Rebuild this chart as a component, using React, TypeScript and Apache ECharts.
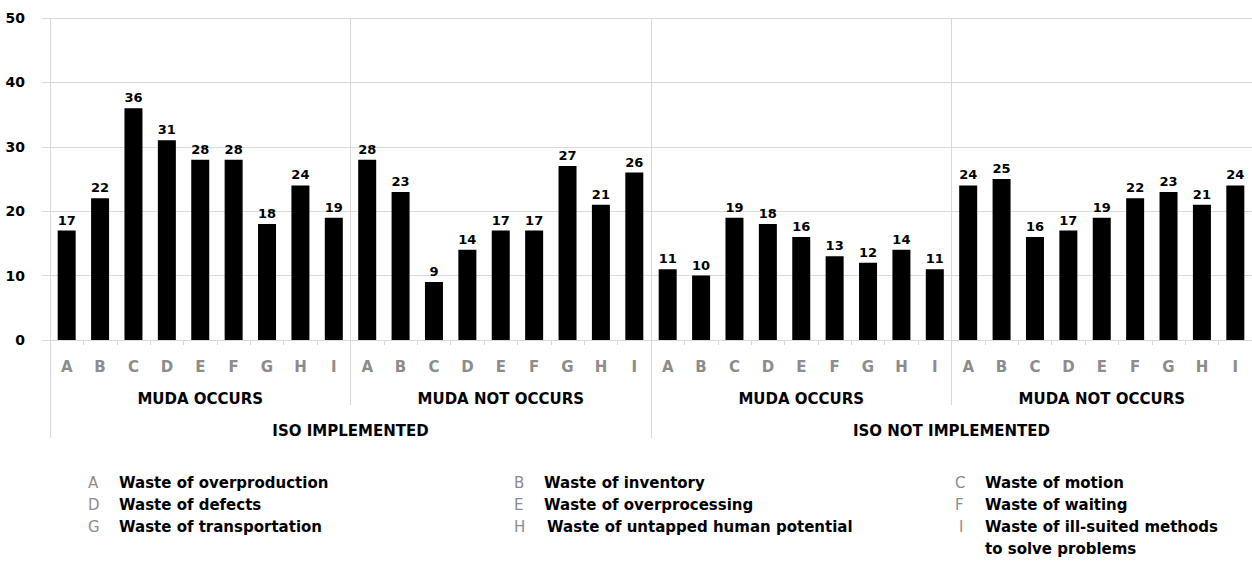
import React, { useEffect, useRef } from "react";
import * as echarts from "echarts";

// Waste categories (A–I) shown under every bar group
const wasteLetters = ["A", "B", "C", "D", "E", "F", "G", "H", "I"];

// Counts per group
const isoImplementedMudaOccurs = [17, 22, 36, 31, 28, 28, 18, 24, 19];
const isoImplementedMudaNotOccurs = [28, 23, 9, 14, 17, 17, 27, 21, 26];
const isoNotImplementedMudaOccurs = [11, 10, 19, 18, 16, 13, 12, 14, 11];
const isoNotImplementedMudaNotOccurs = [24, 25, 16, 17, 19, 22, 23, 21, 24];

// Hierarchical axis labels
const mudaLabels = ["MUDA OCCURS", "MUDA NOT OCCURS", "MUDA OCCURS", "MUDA NOT OCCURS"];
const isoLabels = ["ISO IMPLEMENTED", "ISO NOT IMPLEMENTED"];

// Value axis range
const yMin = 0;
const yMax = 50;
const yStep = 10;

// Key for the letters
const legendLetters = ["A", "B", "C", "D", "E", "F", "G", "H", "I"];
const legendTexts = [
  "Waste of overproduction",
  "Waste of inventory",
  "Waste of motion",
  "Waste of defects",
  "Waste of overprocessing",
  "Waste of waiting",
  "Waste of transportation",
  "Waste of untapped human potential",
  "Waste of ill-suited methods\nto solve problems",
];

const FONT = "'DejaVu Sans', Verdana, sans-serif";
const GRID_COLOR = "#d9d9d9";
const LETTER_GRAY = "#8c8c8c";

export default function App() {
  const ref = useRef<HTMLDivElement>(null);

  useEffect(() => {
    if (!ref.current) return;
    const chart = echarts.init(ref.current, undefined, { renderer: "svg" });

    const groups = [
      isoImplementedMudaOccurs,
      isoImplementedMudaNotOccurs,
      isoNotImplementedMudaOccurs,
      isoNotImplementedMudaNotOccurs,
    ];
    const values = groups.flat();
    const letterAxis = groups.flatMap(() => wasteLetters);

    // key layout: three columns, row-major
    const letterX = [88, 514, 955];
    const textX = [119, 544, 985];
    const rowY = [483, 505, 527];
    const legendGraphics: any[] = [];
    legendLetters.forEach((letter, i) => {
      const col = i % 3;
      const row = Math.floor(i / 3);
      legendGraphics.push({
        type: "text",
        x: letterX[col] + (letter === "I" ? 4 : 0),
        y: rowY[row] - 11,
        style: {
          text: letter,
          fill: LETTER_GRAY,
          font: `15px ${FONT}`,
          verticalAlign: "top",
          lineHeight: 22,
        },
      });
      legendGraphics.push({
        type: "text",
        x: textX[col] + (letter === "H" ? 3 : 0),
        y: rowY[row] - 11,
        style: {
          text: legendTexts[i],
          fill: "#000",
          font: `bold 15px ${FONT}`,
          verticalAlign: "top",
          lineHeight: 22,
        },
      });
    });

    chart.setOption({
      animation: false,
      backgroundColor: "#fff",
      grid: { left: 50, right: -2, top: 18, bottom: 221, containLabel: false },
      xAxis: [
        {
          type: "category",
          data: letterAxis,
          position: "bottom",
          axisLine: { show: true, lineStyle: { color: GRID_COLOR, width: 1 } },
          axisTick: { show: true, length: 5, interval: 0, lineStyle: { color: GRID_COLOR } },
          axisLabel: {
            interval: 0,
            margin: 19,
            color: LETTER_GRAY,
            fontWeight: "bold",
            fontSize: 15,
            fontFamily: FONT,
          },
          splitLine: { show: false },
        },
        {
          type: "category",
          data: mudaLabels,
          position: "bottom",
          offset: 0,
          axisLine: { show: false },
          axisTick: { show: true, length: 65, interval: 0, lineStyle: { color: GRID_COLOR } },
          axisLabel: {
            interval: 0,
            margin: 51,
            color: "#000",
            fontWeight: "bold",
            fontSize: 15,
            fontFamily: FONT,
          },
          splitLine: { show: true, interval: 0, lineStyle: { color: GRID_COLOR, width: 1 } },
        },
        {
          type: "category",
          data: isoLabels,
          position: "bottom",
          offset: 0,
          axisLine: { show: false },
          axisTick: { show: true, length: 98, interval: 0, lineStyle: { color: GRID_COLOR } },
          axisLabel: {
            interval: 0,
            margin: 83,
            color: "#000",
            fontWeight: "bold",
            fontSize: 15,
            fontFamily: FONT,
          },
          splitLine: { show: true, interval: 0, lineStyle: { color: GRID_COLOR, width: 1 } },
        },
      ],
      yAxis: {
        type: "value",
        min: yMin,
        max: yMax,
        interval: yStep,
        axisLine: { show: false },
        axisTick: { show: true, length: 8, lineStyle: { color: GRID_COLOR } },
        axisLabel: {
          margin: 25,
          color: "#000",
          fontWeight: "bold",
          fontSize: 14,
          fontFamily: FONT,
        },
        splitLine: { show: true, lineStyle: { color: GRID_COLOR, width: 1 } },
      },
      series: [
        {
          type: "bar",
          xAxisIndex: 0,
          data: values,
          barWidth: 18,
          itemStyle: { color: "#000" },
          label: {
            show: true,
            position: "top",
            distance: 4,
            color: "#000",
            fontWeight: "bold",
            fontSize: 13,
            fontFamily: FONT,
          },
        },
      ],
      graphic: legendGraphics,
    });

    return () => chart.dispose();
  }, []);

  return (
    <div
      ref={ref}
      style={{ position: "absolute", left: 0, top: 0, width: 1252, height: 561, background: "#fff" }}
    />
  );
}
